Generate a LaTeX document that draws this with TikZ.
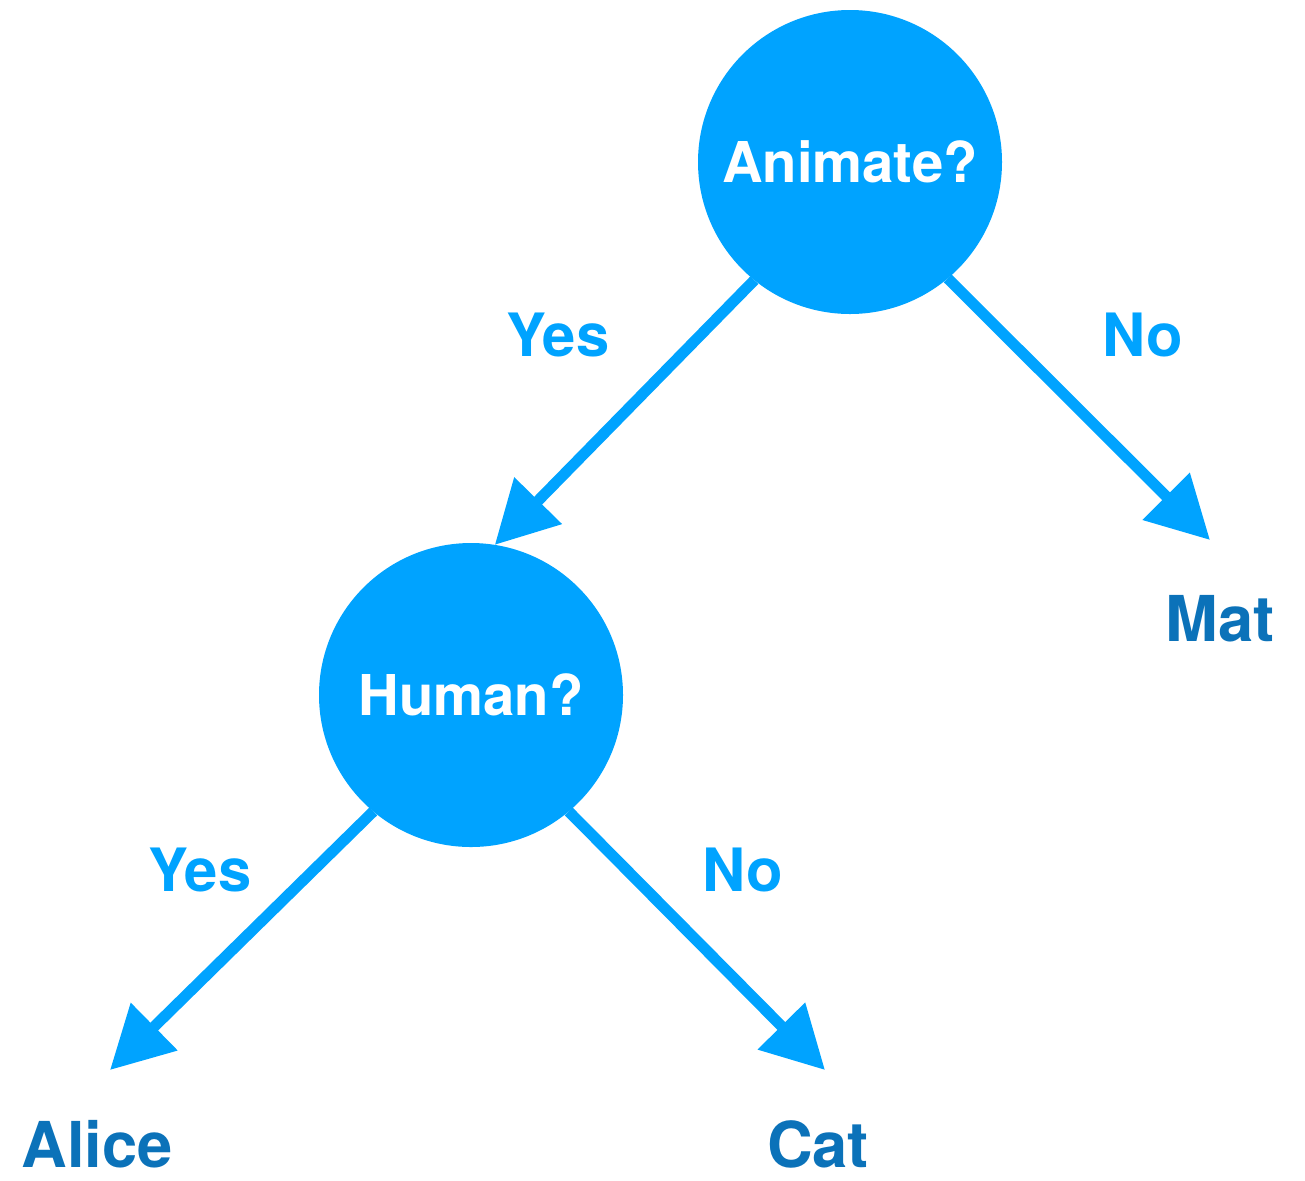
\documentclass[tikz,border=0pt]{standalone}
\usepackage{fontspec}
\setmainfont{TeX Gyre Heros}
\usetikzlibrary{arrows.meta}
\usetikzlibrary{positioning}
\definecolor{treeblue}{RGB}{0,163,255}
\definecolor{leafblue}{RGB}{11,114,185}

\begin{document}
\begin{tikzpicture}[
    question/.style={
      circle,
      fill=treeblue,
      minimum size=3.04cm,
      inner sep=0pt,
      outer sep=0pt,
      text=white,
      font=\fontsize{16}{18}\selectfont\bfseries
    },
    answer/.style={
      text=treeblue,
      inner sep=0pt,
      font=\fontsize{17}{20}\selectfont\bfseries
    },
    leaf/.style={
      text=leafblue,
      inner sep=0pt,
      anchor=north,
      font=\fontsize{18}{21}\selectfont\bfseries
    },
    branch/.style={
      draw=treeblue,
      line width=0.11cm,
      -{Triangle[length=0.62cm,width=0.64cm]}
    }
    ]
    \useasboundingbox (0,0) rectangle (13.05,-11.8);

    \node[question] (animate) at (8.50,-1.62) {Animate?};
    \node[question] (human) at (4.71,-6.95) {Human?};

    \coordinate (mat_tip) at (12.10,-5.40);
    \coordinate (alice_tip) at (1.10,-10.70);
    \coordinate (cat_tip) at (8.25,-10.70);
    \node[leaf] (mat) [below=0.55cm of mat_tip, xshift=0.1cm] {Mat};
    \node[leaf] (alice) [below=0.50cm of alice_tip, xshift=-0.13cm] {Alice};
    \node[leaf] (cat) [below=0.50cm of cat_tip, xshift=-0.07cm] {Cat};

    \draw[branch] (animate.231) -- (human.81);
    \draw[branch] (animate.310) -- (mat_tip);
    \draw[branch] (human.230) -- (alice_tip);
    \draw[branch] (human.310) -- (cat_tip);

    \node[answer] (yes_a) at (5.58,-3.35) {Yes};
    \node[answer] (no_a) at (11.43,-3.35) {No};
    \node[answer] (yes_h) at (2.00,-8.70) {Yes};
    \node[answer] (no_h) at (7.43,-8.70) {No};
  \end{tikzpicture}
\end{document}
